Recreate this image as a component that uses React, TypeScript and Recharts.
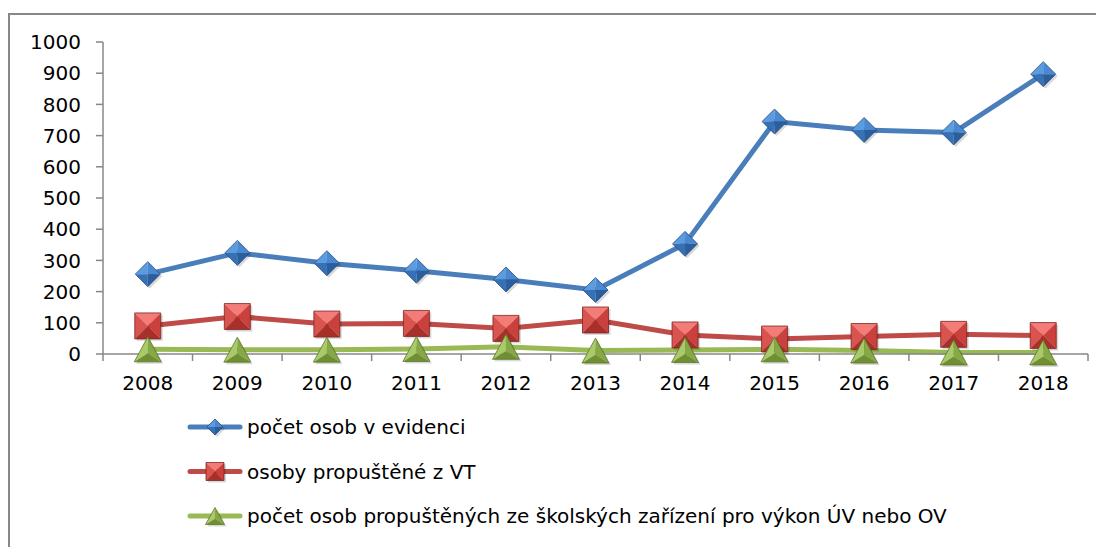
import { LineChart, Line, XAxis, YAxis } from 'recharts';

const years = ['2008', '2009', '2010', '2011', '2012', '2013', '2014', '2015', '2016', '2017', '2018'];
const evidence = [256, 324, 291, 267, 239, 205, 353, 745, 718, 710, 897];
const releasedVT = [90, 120, 96, 98, 82, 109, 61, 48, 56, 63, 59];
const releasedSchool = [15, 14, 14, 16, 23, 11, 13, 15, 11, 5, 5];
const yTicks = [0, 100, 200, 300, 400, 500, 600, 700, 800, 900, 1000];

const seriesNames = [
  'počet osob v evidenci',
  'osoby propuštěné z VT',
  'počet osob propuštěných ze školských zařízení pro výkon ÚV nebo OV',
];

const data = years.map((year, i) => ({
  year,
  evidence: evidence[i],
  vt: releasedVT[i],
  school: releasedSchool[i],
}));

const FONT = '"DejaVu Sans", sans-serif';
const AXIS = '#878787';
const W = 1094;
const H = 532;
const MARGIN = { top: 27, right: 16, left: 0, bottom: 163 };
const Y_WIDTH = 93;
const TICK = 7;
const X_TICK_MARGIN = 15;
const HALF_BAND = (W - MARGIN.right - Y_WIDTH) / years.length / 2;

type P = [number, number];
const pts = (a: P[]) => a.map((p) => p.join(',')).join(' ');

function Diamond({ cx, cy, r = 12.5 }: { cx: number; cy: number; r?: number }) {
  const T: P = [cx, cy - r], R: P = [cx + r, cy], B: P = [cx, cy + r], L: P = [cx - r, cy], C: P = [cx, cy];
  return (
    <g>
      <polygon points={pts([[cx + 2, cy - r + 2], [cx + r + 2, cy + 2], [cx + 2, cy + r + 2], [cx - r + 2, cy + 2]])} fill="#000" opacity={0.15} />
      <polygon points={pts([T, L, C])} fill="#5b9be0" />
      <polygon points={pts([T, R, C])} fill="#4a89d2" />
      <polygon points={pts([L, B, C])} fill="#3670b5" />
      <polygon points={pts([R, B, C])} fill="#2b5e9c" />
      <polygon points={pts([T, R, B, L])} fill="none" stroke="#2a4f80" strokeWidth={0.8} />
    </g>
  );
}

function Square({ cx, cy, s = 13 }: { cx: number; cy: number; s?: number }) {
  const TL: P = [cx - s, cy - s], TR: P = [cx + s, cy - s], BR: P = [cx + s, cy + s], BL: P = [cx - s, cy + s], C: P = [cx, cy];
  return (
    <g>
      <rect x={cx - s + 2} y={cy - s + 2} width={2 * s} height={2 * s} fill="#000" opacity={0.15} />
      <polygon points={pts([TL, TR, C])} fill="#f47c78" />
      <polygon points={pts([TL, BL, C])} fill="#d9534f" />
      <polygon points={pts([TR, BR, C])} fill="#c9403c" />
      <polygon points={pts([BL, BR, C])} fill="#a92f2b" />
      <polygon points={pts([TL, TR, BR, BL])} fill="none" stroke="#7f2422" strokeWidth={0.8} />
    </g>
  );
}

function Triangle({ cx, cy, w = 27, h = 25 }: { cx: number; cy: number; w?: number; h?: number }) {
  const A: P = [cx, cy - h / 2], BL: P = [cx - w / 2, cy + h / 2], BR: P = [cx + w / 2, cy + h / 2], C: P = [cx, cy + h / 6];
  return (
    <g>
      <polygon points={pts([[cx + 2, cy - h / 2 + 2], [cx - w / 2 + 2, cy + h / 2 + 2], [cx + w / 2 + 2, cy + h / 2 + 2]])} fill="#000" opacity={0.15} />
      <polygon points={pts([A, BL, C])} fill="#a9c96a" />
      <polygon points={pts([A, BR, C])} fill="#86a845" />
      <polygon points={pts([BL, BR, C])} fill="#6f8f32" />
      <polygon points={pts([A, BR, BL])} fill="none" stroke="#5b7a28" strokeWidth={0.8} />
    </g>
  );
}

// eslint-disable-next-line @typescript-eslint/no-explicit-any
function XTick({ x, y, payload, index }: any) {
  const axisY = y - TICK - X_TICK_MARGIN;
  return (
    <g>
      <line x1={x - HALF_BAND} y1={axisY} x2={x - HALF_BAND} y2={axisY + TICK} stroke={AXIS} strokeWidth={1.5} />
      {index === years.length - 1 && (
        <line x1={x + HALF_BAND} y1={axisY} x2={x + HALF_BAND} y2={axisY + TICK} stroke={AXIS} strokeWidth={1.5} />
      )}
      <text x={x} y={y} dy="0.71em" textAnchor="middle" fill="#000" fontSize={20} fontFamily={FONT}>
        {payload.value}
      </text>
    </g>
  );
}

const colors = ['#4a7ebb', '#be4b48', '#98b954'];
const legendMarkers = [
  (cx: number, cy: number) => <Diamond cx={cx} cy={cy} r={8} />,
  (cx: number, cy: number) => <Square cx={cx} cy={cy} s={9} />,
  (cx: number, cy: number) => <Triangle cx={cx} cy={cy} w={19} h={17} />,
];

export default function App() {
  return (
    <div
      style={{
        position: 'relative',
        marginTop: 5,
        width: 1094,
        height: 532,
        borderTop: `2px solid ${AXIS}`,
        borderLeft: `2px solid ${AXIS}`,
      }}
    >
      <div style={{ position: 'absolute', left: 0, top: 0 }}>
        <LineChart width={W} height={H} data={data} margin={MARGIN}>
          <XAxis
            dataKey="year"
            height={30}
            padding={{ left: HALF_BAND, right: HALF_BAND }}
            stroke={AXIS}
            strokeWidth={1.5}
            tickLine={false}
            tickSize={TICK}
            tickMargin={X_TICK_MARGIN}
            tick={<XTick />}
            interval={0}
          />
          <YAxis
            width={Y_WIDTH}
            domain={[0, 1000]}
            ticks={yTicks}
            interval={0}
            stroke={AXIS}
            strokeWidth={1.5}
            tickSize={TICK}
            tickMargin={15}
            tick={{ fill: '#000', fontSize: 20, fontFamily: FONT }}
          />
          <Line
            dataKey="evidence"
            stroke={colors[0]}
            strokeWidth={5}
            isAnimationActive={false}
            dot={(p: any) => <Diamond key={`d${p.index}`} cx={p.cx} cy={p.cy} />}
          />
          <Line
            dataKey="vt"
            stroke={colors[1]}
            strokeWidth={5}
            isAnimationActive={false}
            dot={(p: any) => <Square key={`s${p.index}`} cx={p.cx} cy={p.cy} />}
          />
          <Line
            dataKey="school"
            stroke={colors[2]}
            strokeWidth={5}
            isAnimationActive={false}
            dot={(p: any) => <Triangle key={`t${p.index}`} cx={p.cx} cy={p.cy} />}
          />
        </LineChart>
      </div>
      <svg style={{ position: 'absolute', left: 0, top: 390 }} width={W} height={140}>
        {seriesNames.map((name, i) => {
          const cy = 22 + i * 44.5;
          return (
            <g key={name}>
              <line x1={180} y1={cy} x2={230} y2={cy} stroke={colors[i]} strokeWidth={5} strokeLinecap="round" />
              {legendMarkers[i](205, cy)}
              <text x={237} y={cy} dy="0.355em" fontSize={20} fontFamily={FONT} fill="#000">
                {name}
              </text>
            </g>
          );
        })}
      </svg>
    </div>
  );
}
